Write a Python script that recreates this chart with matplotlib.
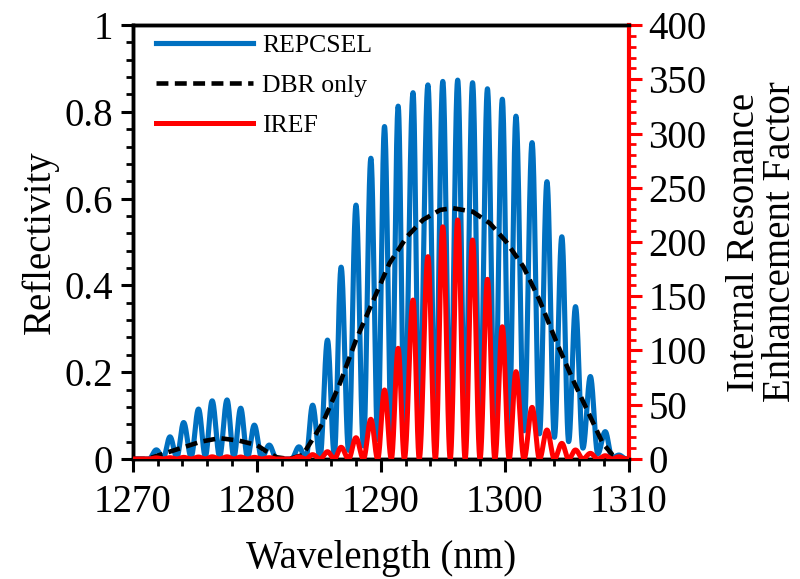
import numpy as np
import matplotlib
matplotlib.use("Agg")
import matplotlib.pyplot as plt
from matplotlib.ticker import MultipleLocator

plt.rcParams['font.family'] = ['Liberation Serif', 'DejaVu Serif']

# ---------------- data ----------------
# REPCSEL reflectivity: local maxima
rep_peak_wl = [1271.9, 1273.0, 1274.1, 1275.3, 1276.4, 1277.6, 1278.7, 1279.8, 1281.0,
               1283.4, 1284.5, 1285.7, 1286.8, 1288.0, 1289.2, 1290.3, 1291.4, 1292.6,
               1293.8, 1295.0, 1296.2, 1297.4, 1298.6, 1299.8, 1300.9, 1302.2, 1303.4,
               1304.6, 1305.7, 1306.9, 1308.1, 1309.2]
rep_peak_val = [0.021, 0.051, 0.084, 0.115, 0.134, 0.136, 0.117, 0.078, 0.032,
                0.028, 0.124, 0.274, 0.442, 0.585, 0.693, 0.766, 0.813, 0.844,
                0.862, 0.870, 0.873, 0.867, 0.853, 0.829, 0.790, 0.729, 0.639,
                0.512, 0.351, 0.190, 0.063, 0.009]
# REPCSEL reflectivity: local minima
rep_trough_wl = [1270.0, 1271.3, 1272.45, 1273.55, 1274.7, 1275.85, 1277.0, 1278.15, 1279.25,
                 1280.4, 1281.6, 1282.8, 1283.95, 1285.1, 1286.25, 1287.4, 1288.6, 1289.75,
                 1290.85, 1291.9, 1293.1, 1294.4, 1295.6, 1296.8, 1298.0, 1299.2, 1300.35,
                 1301.55, 1302.8, 1304.0, 1305.15, 1306.3, 1307.5, 1308.65, 1309.8, 1310.0]
rep_trough_val = [0.0, 0.0, 0.002, 0.004, 0.005, 0.006, 0.006, 0.005, 0.004,
                  0.002, 0.0, 0.0, 0.0, 0.004, 0.01, 0.02, 0.03, 0.045,
                  0.06, 0.072, 0.08, 0.085, 0.088, 0.09, 0.085, 0.075, 0.07,
                  0.065, 0.058, 0.05, 0.04, 0.025, 0.012, 0.003, 0.0, 0.0]

# DBR only reflectivity (dashed)
dbr_wl = [1270.0, 1271.0, 1271.6, 1273.0, 1274.2, 1275.5, 1277.0, 1278.6, 1280.0, 1280.8,
          1281.6, 1282.6, 1283.7, 1285.3, 1286.7, 1288.0, 1289.4, 1290.7, 1292.1, 1293.4,
          1294.8, 1295.8, 1297.4, 1298.8, 1300.1, 1301.5, 1302.8, 1304.2, 1305.5, 1306.9,
          1307.9, 1308.7, 1309.5, 1310.0]
dbr_val = [0.0, 0.0, 0.004, 0.017, 0.028, 0.040, 0.048, 0.042, 0.032, 0.017,
           0.004, 0.0, 0.009, 0.082, 0.174, 0.274, 0.366, 0.451, 0.512, 0.551,
           0.574, 0.578, 0.570, 0.543, 0.501, 0.443, 0.366, 0.267, 0.182, 0.097,
           0.036, 0.009, 0.0, 0.0]

# IREF (right axis): local maxima (same wavelengths as REPCSEL maxima)
iref_peak_wl = rep_peak_wl
iref_peak_val = [1.0, 1.2, 1.5, 1.8, 2.0, 2.0, 1.8, 1.5, 1.2,
                 2.0, 4.0, 6.7, 10.8, 19.6, 36.6, 63.6, 102.0, 146.5,
                 186.5, 214.0, 220.3, 201.8, 165.6, 121.9, 80.5, 47.6, 26.7,
                 14.4, 8.3, 5.2, 3.0, 2.0]
iref_trough_wl = rep_trough_wl
iref_trough_val = [0.0] * len(rep_trough_wl)

legend_labels = ["REPCSEL", "DBR only", "IREF"]
x_ticks = [1270, 1280, 1290, 1300, 1310]
y_left_ticks = [0, 0.2, 0.4, 0.6, 0.8, 1]
y_right_ticks = [0, 50, 100, 150, 200, 250, 300, 350, 400]


def smooth_through_extrema(px, pv, tx, tv, n=40):
    """Join alternating extrema with half-cosine segments."""
    xs = np.array(list(px) + list(tx), dtype=float)
    vs = np.array(list(pv) + list(tv), dtype=float)
    order = np.argsort(xs)
    xs, vs = xs[order], vs[order]
    X, Y = [], []
    for i in range(len(xs) - 1):
        t = np.linspace(0, 1, n, endpoint=False)
        w = (1 - np.cos(np.pi * t)) / 2
        X.append(xs[i] + (xs[i + 1] - xs[i]) * t)
        Y.append(vs[i] + (vs[i + 1] - vs[i]) * w)
    X.append([xs[-1]]); Y.append([vs[-1]])
    return np.concatenate(X), np.concatenate(Y)


rep_x, rep_y = smooth_through_extrema(rep_peak_wl, rep_peak_val, rep_trough_wl, rep_trough_val)
iref_x, iref_y = smooth_through_extrema(iref_peak_wl, iref_peak_val, iref_trough_wl, iref_trough_val)

BLUE = '#0070C0'
RED = '#FF0000'

fig = plt.figure(figsize=(8.0, 5.79), dpi=100)
ax = fig.add_axes([0.166, 0.2073, 0.62, 0.7495])
ax2 = ax.twinx()

l1, = ax.plot(rep_x, rep_y, color=BLUE, lw=3.7, zorder=2)
l2, = ax.plot(dbr_wl, dbr_val, color='black', lw=3.3, dashes=(2.6, 1.4), zorder=3)
l3, = ax2.plot(iref_x, iref_y, color=RED, lw=3.6, zorder=4)

ax.set_xlim(1270, 1310)
ax.set_ylim(0, 1)
ax2.set_ylim(0, 400)

ax.set_xticks(x_ticks)
ax.set_xticklabels([str(v) for v in x_ticks])
ax.set_yticks(y_left_ticks)
ax.set_yticklabels(['0', '0.2', '0.4', '0.6', '0.8', '1'])
ax2.set_yticks(y_right_ticks)
ax.xaxis.set_minor_locator(MultipleLocator(2))
ax.yaxis.set_minor_locator(MultipleLocator(0.04))
ax2.yaxis.set_minor_locator(MultipleLocator(10))

fs = 28
ax.tick_params(axis='both', which='major', labelsize=fs, direction='out', length=9, width=2.2,
               color='black', pad=5)
ax.tick_params(axis='both', which='minor', direction='out', length=5, width=2.0, color='black')
ax.tick_params(axis='x', which='major', pad=9)
ax2.tick_params(axis='y', which='major', labelsize=fs, direction='out', length=9, width=2.2,
                color=RED, labelcolor='black', pad=5)
ax2.tick_params(axis='y', which='minor', direction='out', length=5, width=2.0, color=RED)

for s in ['left', 'bottom', 'top']:
    ax.spines[s].set_linewidth(2.5)
    ax.spines[s].set_color('black')
    ax2.spines[s].set_linewidth(2.5)
    ax2.spines[s].set_color('black')
ax2.spines['right'].set_color(RED)
ax2.spines['right'].set_linewidth(3.0)
ax.spines['right'].set_visible(False)

ax.set_xlabel('Wavelength (nm)', fontsize=fs, labelpad=14)
ax.set_ylabel('Reflectivity', fontsize=fs, labelpad=4)
ax2.set_ylabel('Internal Resonance\nEnhancement Factor', fontsize=fs, labelpad=14,
               linespacing=0.95)

leg = ax.legend([l1, l2, l3], legend_labels, loc='upper left', frameon=False,
                fontsize=18.5, handlelength=3.8, handletextpad=0.35, labelspacing=0.65,
                bbox_to_anchor=(0.01, 1.02), borderaxespad=0.3)

fig.savefig('out.png', dpi=100)
